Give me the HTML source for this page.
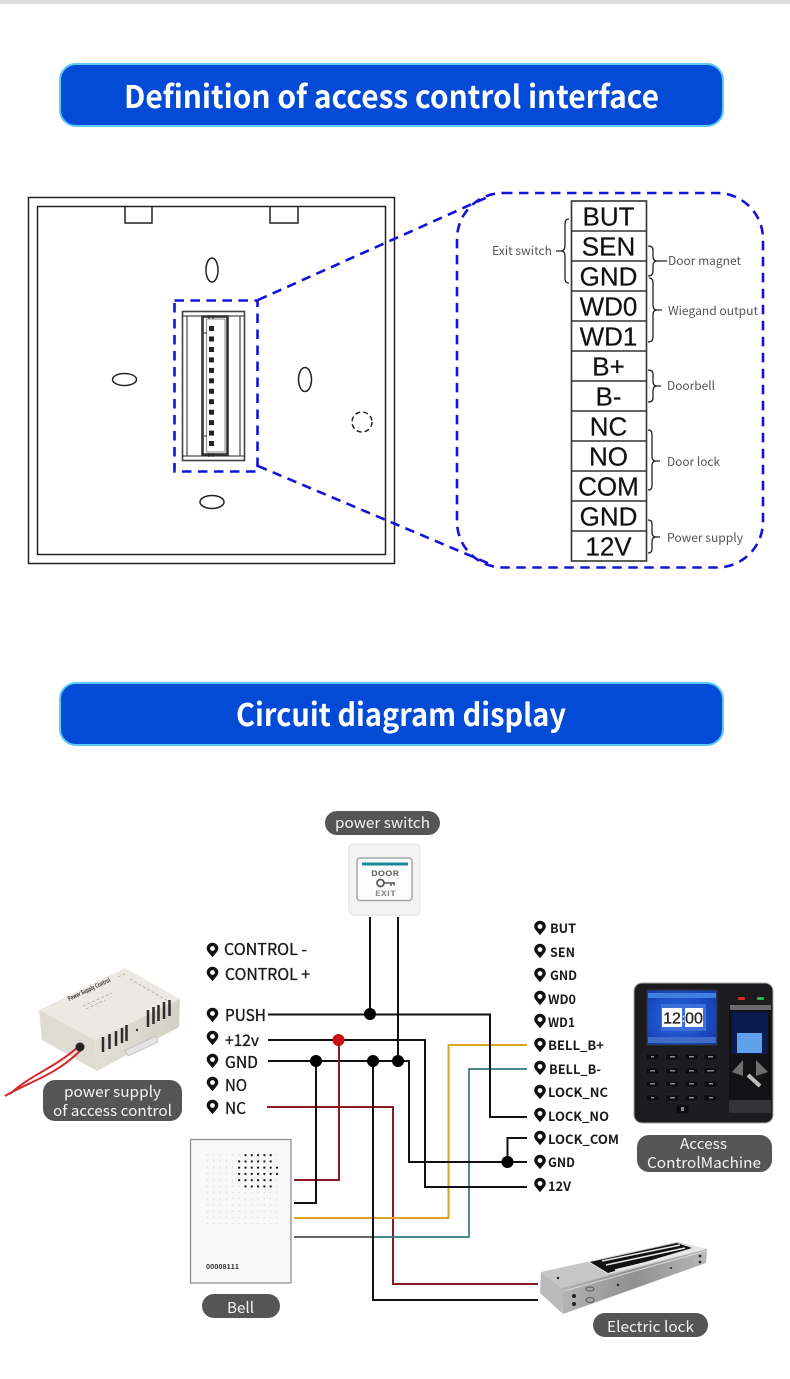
<!DOCTYPE html>
<html><head><meta charset="utf-8"><title>Access control interface</title>
<style>
html,body{margin:0;padding:0;background:#fff}
svg{display:block}
text{font-family:"Liberation Sans","Noto Sans CJK JP",sans-serif}
.n{font-family:"Noto Sans CJK JP","Liberation Sans",sans-serif}
.h{font-weight:700;font-size:31px;fill:#fff}
.t{font-size:26px;fill:#111;stroke:#111;stroke-width:.2;text-anchor:middle;font-family:"Liberation Sans",sans-serif}
.l{font-size:12px;fill:#555}
.p{font-size:15px;fill:#f2f2f2}
.a{font-size:16px;font-weight:400;fill:#1a1a1a;stroke:#1a1a1a;stroke-width:.35}
.b{font-size:13px;font-weight:700;fill:#1a1a1a}
.w{fill:none;stroke:#111;stroke-width:2}
.br{fill:none;stroke:#222;stroke-width:1.3}
</style></head><body>
<svg width="790" height="1379" viewBox="0 0 790 1379" xmlns="http://www.w3.org/2000/svg">
<defs>
<path id="pin" fill="#111" fill-rule="evenodd" d="M0 7.200C-2.500 3.800-5.800 1.400-5.800-1.500A5.800 5.800 0 1 1 5.800-1.500C5.800 1.400 2.500 3.800 0 7.200ZM0-3.900A2.400 2.400 0 1 0 0 0.900A2.400 2.400 0 1 0 0-3.900Z"/>
<pattern id="ld" x="206.700" y="1154.200" width="6.3" height="6.25" patternUnits="userSpaceOnUse"><circle cx="0.8" cy="0.8" r="0.5" fill="#c4c4c4"/></pattern>
<pattern id="dd" x="206.700" y="1154.200" width="6.3" height="6.25" patternUnits="userSpaceOnUse"><circle cx="0.8" cy="0.8" r="1.250" fill="#111"/></pattern>
<linearGradient id="lk" x1="0" y1="0" x2="1" y2="0"><stop offset="0" stop-color="#b4b4b4"/><stop offset="0.5" stop-color="#909090"/><stop offset="1" stop-color="#b8b8b8"/></linearGradient>
<linearGradient id="bx" x1="0" y1="0" x2="1" y2="0"><stop offset="0" stop-color="#e2dfd7"/><stop offset="1" stop-color="#d4d0c6"/></linearGradient>
<radialGradient id="sc" cx="0.45" cy="0.5" r="0.7"><stop offset="0" stop-color="#2a6be8"/><stop offset="1" stop-color="#1238a8"/></radialGradient>
</defs>
<rect width="790" height="1379" fill="#fff"/>
<rect width="790" height="4" fill="#dcdcdc"/>

<!-- headers -->
<rect x="60" y="64" width="663" height="62" rx="16" fill="#034bd6" stroke="#5ccaf5" stroke-width="2"/>
<text class="h n" x="124" y="108" textLength="535" lengthAdjust="spacingAndGlyphs">Definition of access control interface</text>
<rect x="60" y="683" width="663" height="62" rx="16" fill="#034bd6" stroke="#5ccaf5" stroke-width="2"/>
<text class="h n" x="236" y="726" textLength="330" lengthAdjust="spacingAndGlyphs">Circuit diagram display</text>

<!-- panel -->
<g fill="none" stroke="#222" stroke-width="1.5">
<rect x="28.500" y="197.500" width="366" height="366"/>
<rect x="37.500" y="206.500" width="348" height="348"/>
<path d="M125 207V223H152V207M270 207V223H298V207"/>
<ellipse cx="212" cy="270" rx="6" ry="12"/>
<ellipse cx="124.500" cy="379.500" rx="12" ry="6"/>
<ellipse cx="305" cy="379.500" rx="6.500" ry="12"/>
<ellipse cx="212" cy="502" rx="12" ry="6.500"/>
<circle cx="362" cy="422" r="10" stroke-dasharray="5 3"/>
<rect x="182.500" y="311.500" width="62" height="149" stroke="#444" stroke-width="1.600"/>
<path d="M182 316H244M182 456H244M187 316V456M240 316V456" stroke-width="1"/>
<rect x="202.500" y="316.500" width="25" height="138" stroke="#333" stroke-width="2.600"/>
<rect x="206.500" y="319" width="18.500" height="133" stroke="#999" stroke-width="1.200"/>
<path d="M204 333H207M204 436H207M209 315V319M213 315V319M209 453V457M213 453V457" stroke-width="1"/>
</g>
<g fill="#222">
<rect x="209" y="326" width="5" height="5"/><rect x="209" y="336.500" width="5" height="5"/><rect x="209" y="347" width="5" height="5"/><rect x="209" y="357.400" width="5" height="5"/><rect x="209" y="367.900" width="5" height="5"/><rect x="209" y="378.300" width="5" height="5"/><rect x="209" y="388.800" width="5" height="5"/><rect x="209" y="399.200" width="5" height="5"/><rect x="209" y="409.700" width="5" height="5"/><rect x="209" y="420.100" width="5" height="5"/><rect x="209" y="430.600" width="5" height="5"/><rect x="209" y="441" width="5" height="5"/>
</g>

<!-- blue dashes -->
<g fill="none" stroke="#1212dc" stroke-width="2.600" stroke-dasharray="9.500 6.500">
<rect x="174.500" y="300.500" width="83" height="171"/>
<rect x="457" y="193" width="306" height="374.500" rx="46" ry="46"/>
<path d="M258 300L490 196"/>
<path d="M258 466L490 564"/>
</g>

<!-- terminal table -->
<rect x="571.500" y="201" width="75" height="360" fill="#fff" stroke="#333" stroke-width="1.600"/>
<path d="M571 231H647M571 261H647M571 291H647M571 321H647M571 351H647M571 381H647M571 411H647M571 441H647M571 471H647M571 501H647M571 531H647" stroke="#333" stroke-width="1.600"/>
<text class="t" x="608.500" y="225.500">BUT</text>
<text class="t" x="608.500" y="255.500">SEN</text>
<text class="t" x="608.500" y="285.500">GND</text>
<text class="t" x="608.500" y="315.500">WD0</text>
<text class="t" x="608.500" y="345.500">WD1</text>
<text class="t" x="608.500" y="375.500">B+</text>
<text class="t" x="608.500" y="405.500">B-</text>
<text class="t" x="608.500" y="435.500">NC</text>
<text class="t" x="608.500" y="465.500">NO</text>
<text class="t" x="608.500" y="495.500">COM</text>
<text class="t" x="608.500" y="525.500">GND</text>
<text class="t" x="608.500" y="555.500">12V</text>

<!-- braces -->
<path class="br" d="M569 219Q565 219 565 224V245Q565 251 561 251H556M561 251Q565 251 565 256V278Q565 283 569 283"/>
<path class="br" d="M648 246Q653 246 653 250V256Q653 261 657 261H667M657 261Q653 261 653 266V271Q653 276 648 276"/>
<path class="br" d="M649 278Q653 278 653 283V305Q653 310 657 310H662M657 310Q653 310 653 315V337Q653 342 648 342"/>
<path class="br" d="M648 370Q653 370 653 374V381Q653 386 657 386H661M657 386Q653 386 653 391V398Q653 402 648 402"/>
<path class="br" d="M648 430Q652 430 652 434V456Q652 461 656 461H660M656 461Q652 461 652 466V486Q652 490 648 490"/>
<path class="br" d="M648 520Q652 520 652 524V532Q652 537 656 537H660M656 537Q652 537 652 542V549Q652 553 648 553"/>
<text class="l n" x="492" y="255" textLength="60" lengthAdjust="spacingAndGlyphs">Exit switch</text>
<text class="l n" x="668" y="265" textLength="73" lengthAdjust="spacingAndGlyphs">Door magnet</text>
<text class="l n" x="668" y="315" textLength="90" lengthAdjust="spacingAndGlyphs">Wiegand output</text>
<text class="l n" x="667" y="390" textLength="48" lengthAdjust="spacingAndGlyphs">Doorbell</text>
<text class="l n" x="667" y="466" textLength="53" lengthAdjust="spacingAndGlyphs">Door lock</text>
<text class="l n" x="667" y="542" textLength="76" lengthAdjust="spacingAndGlyphs">Power supply</text>

<!-- power switch device -->
<rect x="349" y="844" width="71" height="71" rx="4" fill="#f3f3f3" stroke="#e2e2e2"/>
<rect x="357" y="858" width="55" height="42.500" rx="3" fill="#fcfcfc" stroke="#a8a8a8" stroke-width="1.500"/>
<rect x="362" y="862.500" width="46" height="3" fill="#16899a"/>
<text class="n" x="371" y="876" font-size="7.500" font-weight="700" fill="#666" textLength="28" lengthAdjust="spacingAndGlyphs">DOOR</text>
<text class="n" x="375" y="896" font-size="7" font-weight="700" fill="#888" textLength="21" lengthAdjust="spacingAndGlyphs">EXIT</text>
<circle cx="380.500" cy="883" r="3.500" fill="none" stroke="#555" stroke-width="1.700"/>
<path d="M384 883H395M391 883V886M394 883V885.500" stroke="#555" stroke-width="1.500" fill="none"/>

<!-- power supply device -->
<polygon points="39,1010 95,1040 97,1071 42,1040" fill="#dedbd3"/>
<polygon points="39,1010 125,968 180,999 95,1040" fill="#ece9e3"/>
<polygon points="95,1040 180,999 179,1027 97,1071" fill="url(#bx)"/>
<path d="M10 1094C30 1075 55 1068 79 1046M5 1096C28 1082 55 1076 81 1050" fill="none" stroke="#d5292e" stroke-width="2"/>
<circle cx="80" cy="1047" r="4.500" fill="#222"/>
<path d="M125 1050.500L156 1036L158 1042L128 1056Z" fill="#e4e4e4" stroke="#bbb" stroke-width="0.800"/>
<g stroke="#2b2b2b" stroke-width="2.500" fill="none">
<path d="M103 1052V1037M109.500 1049V1034M116 1046V1031M122 1043V1028M126.500 1041V1025"/>
<path d="M148 1027V1010M153.500 1024V1007M158.500 1021V1005M164 1019V1002M169.500 1016V1000"/>
</g>
<circle cx="137" cy="1030" r="1.200" fill="#333"/>
<text class="n" transform="translate(69 1001) rotate(-25)" font-size="6" font-weight="700" fill="#333" textLength="46" lengthAdjust="spacingAndGlyphs">Power Supply Control</text>
<path d="M83 1006L112 993M86 1009L105 1000M118 977L125 974M130 979L168 1001" stroke="#aaa" stroke-width="0.800" fill="none" stroke-dasharray="3 2"/>

<!-- wires -->
<g fill="none" stroke-linejoin="miter">
<path d="M294 1180H339V1040" stroke="#8e1b24" stroke-width="2"/>
<path d="M267 1107H393V1284H538" stroke="#8e1b24" stroke-width="2"/>
<path d="M527 1045H448.500V1218H294" stroke="#d9a520" stroke-width="2"/>
<path d="M527 1069H469V1237H374" stroke="#2f7a78" stroke-width="1.700"/>
<path d="M374 1237H294" stroke="#333" stroke-width="1.500"/>
<path class="w" d="M268 1014.500H490V1117H527"/>
<path class="w" d="M268 1040H425V1187H527"/>
<path class="w" d="M268 1061H409V1162H527"/>
<path class="w" d="M370 917V1014"/>
<path class="w" d="M398 917V1061"/>
<path class="w" d="M316 1061V1203H294"/>
<path class="w" d="M373 1061V1300H538"/>
<path class="w" d="M527 1138H507.500V1162"/>
</g>
<path d="M339 1040V1180" stroke="#8e1b24" stroke-width="2"/>
<g fill="#000">
<circle cx="370" cy="1014" r="6"/><circle cx="316" cy="1061" r="6"/><circle cx="373" cy="1061" r="6"/><circle cx="398" cy="1061" r="6"/><circle cx="507.500" cy="1162" r="6"/>
</g>
<circle cx="338.500" cy="1040" r="6" fill="#c80f14"/>

<!-- left labels -->
<use href="#pin" x="212.500" y="950"/><text class="a n" x="224" y="955" textLength="83" lengthAdjust="spacingAndGlyphs">CONTROL -</text>
<use href="#pin" x="212.500" y="974"/><text class="a n" x="225" y="980" textLength="85" lengthAdjust="spacingAndGlyphs">CONTROL +</text>
<use href="#pin" x="212.500" y="1015"/><text class="a n" x="225" y="1021" textLength="41" lengthAdjust="spacingAndGlyphs">PUSH</text>
<use href="#pin" x="212.500" y="1038"/><text class="a n" x="225" y="1046" textLength="34" lengthAdjust="spacingAndGlyphs">+12v</text>
<use href="#pin" x="212.500" y="1061"/><text class="a n" x="225" y="1068" textLength="33" lengthAdjust="spacingAndGlyphs">GND</text>
<use href="#pin" x="212.500" y="1084"/><text class="a n" x="225" y="1091" textLength="22" lengthAdjust="spacingAndGlyphs">NO</text>
<use href="#pin" x="212.500" y="1107"/><text class="a n" x="225" y="1114" textLength="21" lengthAdjust="spacingAndGlyphs">NC</text>

<!-- right labels -->
<use href="#pin" x="540" y="928"/><text class="b n" x="550" y="933" textLength="26" lengthAdjust="spacingAndGlyphs">BUT</text>
<use href="#pin" x="540" y="951"/><text class="b n" x="550" y="957" textLength="25" lengthAdjust="spacingAndGlyphs">SEN</text>
<use href="#pin" x="540" y="975"/><text class="b n" x="550" y="980" textLength="27" lengthAdjust="spacingAndGlyphs">GND</text>
<use href="#pin" x="540" y="998"/><text class="b n" x="548" y="1004" textLength="28" lengthAdjust="spacingAndGlyphs">WD0</text>
<use href="#pin" x="540" y="1021"/><text class="b n" x="548" y="1027" textLength="27" lengthAdjust="spacingAndGlyphs">WD1</text>
<use href="#pin" x="540" y="1045"/><text class="b n" x="548" y="1050" textLength="56" lengthAdjust="spacingAndGlyphs">BELL_B+</text>
<use href="#pin" x="540" y="1068"/><text class="b n" x="549" y="1074" textLength="52" lengthAdjust="spacingAndGlyphs">BELL_B-</text>
<use href="#pin" x="540" y="1092"/><text class="b n" x="548" y="1097" textLength="60" lengthAdjust="spacingAndGlyphs">LOCK_NC</text>
<use href="#pin" x="540" y="1115"/><text class="b n" x="548" y="1121" textLength="61" lengthAdjust="spacingAndGlyphs">LOCK_NO</text>
<use href="#pin" x="540" y="1138"/><text class="b n" x="548" y="1144" textLength="71" lengthAdjust="spacingAndGlyphs">LOCK_COM</text>
<use href="#pin" x="540" y="1162"/><text class="b n" x="548" y="1167" textLength="27" lengthAdjust="spacingAndGlyphs">GND</text>
<use href="#pin" x="540" y="1185"/><text class="b n" x="548" y="1191" textLength="23" lengthAdjust="spacingAndGlyphs">12V</text>

<!-- bell -->
<rect x="190.500" y="1139.500" width="100.500" height="143.500" fill="#f8f8f8" stroke="#909090" stroke-width="1.300"/>
<rect x="206" y="1153" width="74" height="72" fill="url(#ld)"/>
<rect x="244" y="1153" width="29" height="5" fill="url(#dd)"/>
<rect x="237.500" y="1159.300" width="35.500" height="5" fill="url(#dd)"/>
<rect x="237.500" y="1165.500" width="41" height="11.500" fill="url(#dd)"/>
<rect x="237.500" y="1178" width="35.500" height="5" fill="url(#dd)"/>
<rect x="244" y="1184.300" width="29" height="5" fill="url(#dd)"/>
<text class="n" x="206" y="1269" font-size="7" font-weight="700" fill="#333" textLength="33" lengthAdjust="spacingAndGlyphs">00008111</text>

<!-- electric lock -->
<polygon points="541,1272 677,1242 707,1249 562,1288" fill="#c6c6c6"/>
<polygon points="588,1262 677,1243 707,1249 608,1274" fill="#e6e6e6"/>
<polygon points="590,1262 677,1243 692,1248 608,1273" fill="#111"/>
<path d="M602 1261L680 1245M606 1265L685 1248M615 1270L690 1252" stroke="#e8e8e8" stroke-width="1.500" fill="none"/>
<polygon points="541,1272 562,1288 563,1314 540,1293" fill="#bbb"/>
<polygon points="562,1288 707,1249 706,1263 563,1314" fill="url(#lk)"/>
<path d="M564 1291L706 1251" stroke="#d8d8d8" stroke-width="1" fill="none"/>
<ellipse cx="590" cy="1289" rx="4" ry="2" fill="none" stroke="#555"/><ellipse cx="590" cy="1300" rx="4" ry="2.500" fill="none" stroke="#555"/>
<g fill="#222"><circle cx="574" cy="1296" r="2"/><circle cx="574" cy="1304" r="2"/><circle cx="618" cy="1285" r="1.200"/><circle cx="671" cy="1268" r="1"/><circle cx="700" cy="1256" r="1.300"/><circle cx="700" cy="1262" r="1.300"/><circle cx="558" cy="1278" r="1.200"/></g>

<!-- reader -->
<rect x="634" y="983" width="139" height="140" rx="8" fill="#1c1c1f" stroke="#a8a8a8" stroke-width="1"/>
<rect x="647" y="990" width="70" height="55" fill="url(#sc)" stroke="#333"/>
<rect x="648" y="993" width="68" height="5" fill="#3f7fe0"/>
<rect x="648" y="1037" width="68" height="6" fill="#3e6cc8"/>
<rect x="661" y="1004" width="45" height="27" fill="#3c6fd8"/>
<rect x="662" y="1008" width="20" height="19" fill="#fff"/>
<rect x="685" y="1008" width="18" height="19" fill="#fff"/>
<text x="672" y="1023.500" font-size="16" fill="#222" stroke="#222" stroke-width=".3" text-anchor="middle">12</text>
<text x="694" y="1023.500" font-size="16" fill="#222" stroke="#222" stroke-width=".3" text-anchor="middle">00</text>
<text x="683.500" y="1022" font-size="13" font-weight="700" fill="#dde" text-anchor="middle">:</text>
<rect x="738" y="997" width="7" height="3" rx="1" fill="#d82828"/>
<rect x="757" y="997" width="7" height="3" rx="1" fill="#2ab84a"/>
<rect x="729" y="1005" width="42" height="108" rx="2" fill="#121214"/>
<rect x="730" y="1005" width="41" height="5" fill="#6a6a6a"/>
<rect x="732" y="1012" width="36" height="42" fill="#0a1c50"/>
<rect x="737" y="1033" width="25" height="20" fill="#5fa0ea"/>
<path d="M732 1072L743 1060V1076ZM768 1072L756 1060V1076Z" fill="#6e6e6e"/>
<path d="M748 1075L760 1086" stroke="#bbb" stroke-width="4"/>
<rect x="729" y="1100" width="42" height="13" fill="#333335"/>
<g fill="#0c0c0e" stroke="#2c2c2e" stroke-width="0.500">
<rect x="646" y="1054" width="13" height="6" rx="1"/><rect x="666" y="1054" width="13" height="6" rx="1"/><rect x="685" y="1054" width="13" height="6" rx="1"/><rect x="704" y="1054" width="13" height="6" rx="1"/>
<rect x="646" y="1068" width="13" height="6" rx="1"/><rect x="666" y="1068" width="13" height="6" rx="1"/><rect x="685" y="1068" width="13" height="6" rx="1"/><rect x="704" y="1068" width="13" height="6" rx="1"/>
<rect x="646" y="1081" width="13" height="6" rx="1"/><rect x="666" y="1081" width="13" height="6" rx="1"/><rect x="685" y="1081" width="13" height="6" rx="1"/><rect x="704" y="1081" width="13" height="6" rx="1"/>
<rect x="646" y="1095" width="13" height="6" rx="1"/><rect x="666" y="1095" width="13" height="6" rx="1"/><rect x="685" y="1095" width="13" height="6" rx="1"/><rect x="704" y="1095" width="13" height="6" rx="1"/>
<rect x="676" y="1104" width="13" height="10" rx="2"/>
</g>
<g fill="#8a8a8a"><rect x="651" y="1056" width="3" height="1.500"/><rect x="670" y="1056" width="5" height="1.500"/><rect x="689" y="1056" width="5" height="1.500"/><rect x="708" y="1056" width="5" height="1.500"/><rect x="650" y="1070" width="5" height="1.500"/><rect x="670" y="1070" width="5" height="1.500"/><rect x="689" y="1070" width="5" height="1.500"/><rect x="707" y="1070" width="7" height="1.500"/><rect x="650" y="1083" width="5" height="1.500"/><rect x="670" y="1083" width="5" height="1.500"/><rect x="689" y="1083" width="5" height="1.500"/><rect x="709" y="1083" width="4" height="1.500"/><rect x="651" y="1097" width="3" height="1.500"/><rect x="670" y="1097" width="5" height="1.500"/><rect x="689" y="1097" width="5" height="1.500"/><rect x="709" y="1097" width="4" height="1.500"/><rect x="681" y="1107" width="3" height="4"/></g>

<!-- pills -->
<g fill="#555">
<rect x="325" y="811" width="115" height="24" rx="12"/>
<rect x="43" y="1080" width="139" height="41" rx="12"/>
<rect x="637" y="1135" width="135" height="37" rx="12"/>
<rect x="202" y="1294" width="78" height="24" rx="12"/>
<rect x="593" y="1313" width="115" height="24" rx="12"/>
</g>
<text class="p n" x="335" y="828" textLength="95" lengthAdjust="spacingAndGlyphs">power switch</text>
<text class="p n" x="64" y="1097" textLength="97" lengthAdjust="spacingAndGlyphs">power supply</text>
<text class="p n" x="53" y="1116" textLength="119" lengthAdjust="spacingAndGlyphs">of access control</text>
<text class="p n" x="680" y="1149" textLength="47" lengthAdjust="spacingAndGlyphs">Access</text>
<text class="p n" x="647" y="1168" textLength="114" lengthAdjust="spacingAndGlyphs">ControlMachine</text>
<text class="p n" x="227" y="1313" textLength="27" lengthAdjust="spacingAndGlyphs">Bell</text>
<text class="p n" x="607" y="1332" textLength="87" lengthAdjust="spacingAndGlyphs">Electric lock</text>
</svg>
</body></html>
